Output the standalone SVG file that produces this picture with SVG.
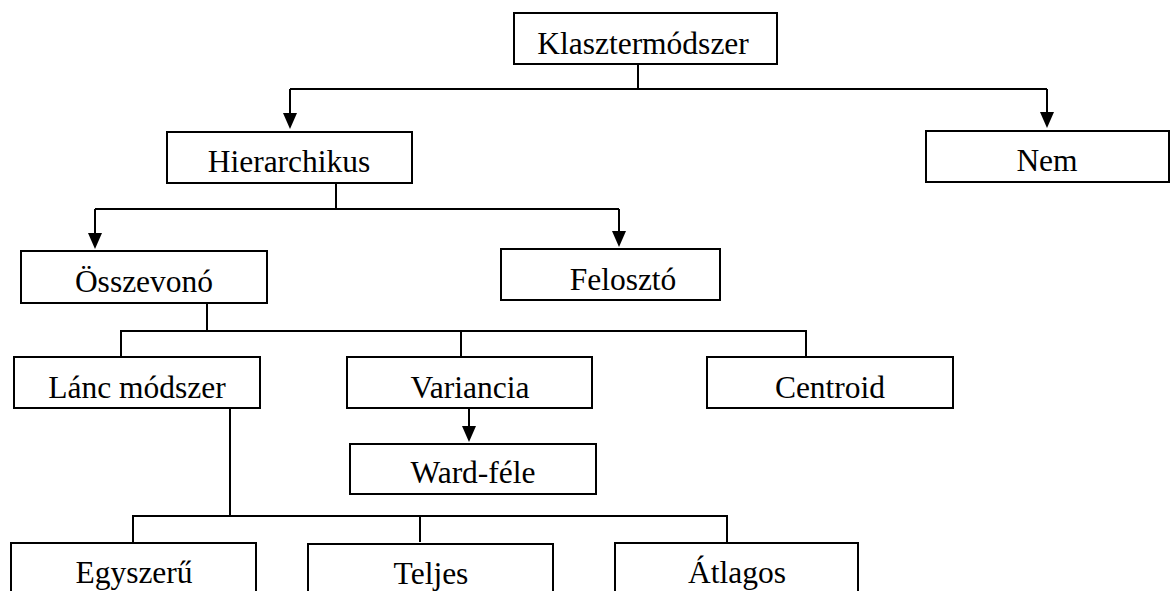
<svg xmlns="http://www.w3.org/2000/svg" width="1170" height="591" viewBox="0 0 1170 591">
  <defs>
    <style>
      .box { fill: #ffffff; stroke: #000000; stroke-width: 2; }
      .lbl { font-family: "Liberation Serif", "Times New Roman", serif; font-size: 31.5px; fill: #000000; text-anchor: middle; }
      .wire { fill: none; stroke: #000000; stroke-width: 2; }
    </style>
    <marker id="arrow" markerUnits="userSpaceOnUse" markerWidth="14" markerHeight="16" refX="7" refY="16" orient="auto-start-reverse" viewBox="0 0 14 16">
      <path d="M0,0 L14,0 L7,16 Z" fill="#000000" transform="rotate(0)"/>
    </marker>
  </defs>
  <rect width="1170" height="591" fill="#ffffff"/>

  <!-- connectors -->
  <g id="connectors">
    <!-- Klasztermódszer split -->
    <path class="wire" d="M638,64 V89"/>
    <path class="wire" d="M290,89 H1047"/>
    <path class="wire" d="M290,89 V113"/>
    <path d="M283,113 L297,113 L290,129 Z"/>
    <path class="wire" d="M1047,89 V112"/>
    <path d="M1040,112 L1054,112 L1047,128 Z"/>
    <!-- Hierarchikus split -->
    <path class="wire" d="M336,183 V209"/>
    <path class="wire" d="M95,209 H619"/>
    <path class="wire" d="M95,209 V233"/>
    <path d="M88,233 L102,233 L95,249 Z"/>
    <path class="wire" d="M619,209 V231"/>
    <path d="M612,231 L626,231 L619,247 Z"/>
    <!-- Összevonó split -->
    <path class="wire" d="M207,303 V331"/>
    <path class="wire" d="M121,357 V331 H806 V357"/>
    <path class="wire" d="M461,331 V357"/>
    <!-- Variancia to Ward-féle -->
    <path class="wire" d="M469,408 V426"/>
    <path d="M462,426 L476,426 L469,442 Z"/>
    <!-- Lánc módszer split -->
    <path class="wire" d="M230,408 V516"/>
    <path class="wire" d="M133,542 V516 H727 V542"/>
    <path class="wire" d="M420,516 V542"/>
  </g>

  <g id="klasztermodszer">
    <rect class="box" x="514" y="13" width="263" height="51"/>
    <text class="lbl" x="643" y="54">Klasztermódszer</text>
  </g>
  <g id="hierarchikus">
    <rect class="box" x="167" y="132" width="245" height="51"/>
    <text class="lbl" x="289" y="172">Hierarchikus</text>
  </g>
  <g id="nem">
    <rect class="box" x="926" y="131" width="243" height="51"/>
    <text class="lbl" x="1047" y="171">Nem</text>
  </g>
  <g id="osszevono">
    <rect class="box" x="21" y="251" width="246" height="52"/>
    <text class="lbl" x="144" y="292">Összevonó</text>
  </g>
  <g id="feloszto">
    <rect class="box" x="501" y="249" width="219" height="51"/>
    <text class="lbl" x="623" y="290">Felosztó</text>
  </g>
  <g id="lanc-modszer">
    <rect class="box" x="14" y="357" width="246" height="51"/>
    <text class="lbl" x="137" y="398">Lánc módszer</text>
  </g>
  <g id="variancia">
    <rect class="box" x="347" y="357" width="245" height="51"/>
    <text class="lbl" x="470" y="398">Variancia</text>
  </g>
  <g id="centroid">
    <rect class="box" x="707" y="357" width="246" height="51"/>
    <text class="lbl" x="830" y="398">Centroid</text>
  </g>
  <g id="ward-fele">
    <rect class="box" x="350" y="444" width="246" height="50"/>
    <text class="lbl" x="473" y="483">Ward-féle</text>
  </g>
  <g id="egyszeru">
    <rect class="box" x="11" y="543" width="245" height="60"/>
    <text class="lbl" x="134" y="583">Egyszerű</text>
  </g>
  <g id="teljes">
    <rect class="box" x="308" y="544" width="245" height="60"/>
    <text class="lbl" x="431" y="584">Teljes</text>
  </g>
  <g id="atlagos">
    <rect class="box" x="615" y="543" width="243" height="60"/>
    <text class="lbl" x="737" y="583">Átlagos</text>
  </g>
</svg>
